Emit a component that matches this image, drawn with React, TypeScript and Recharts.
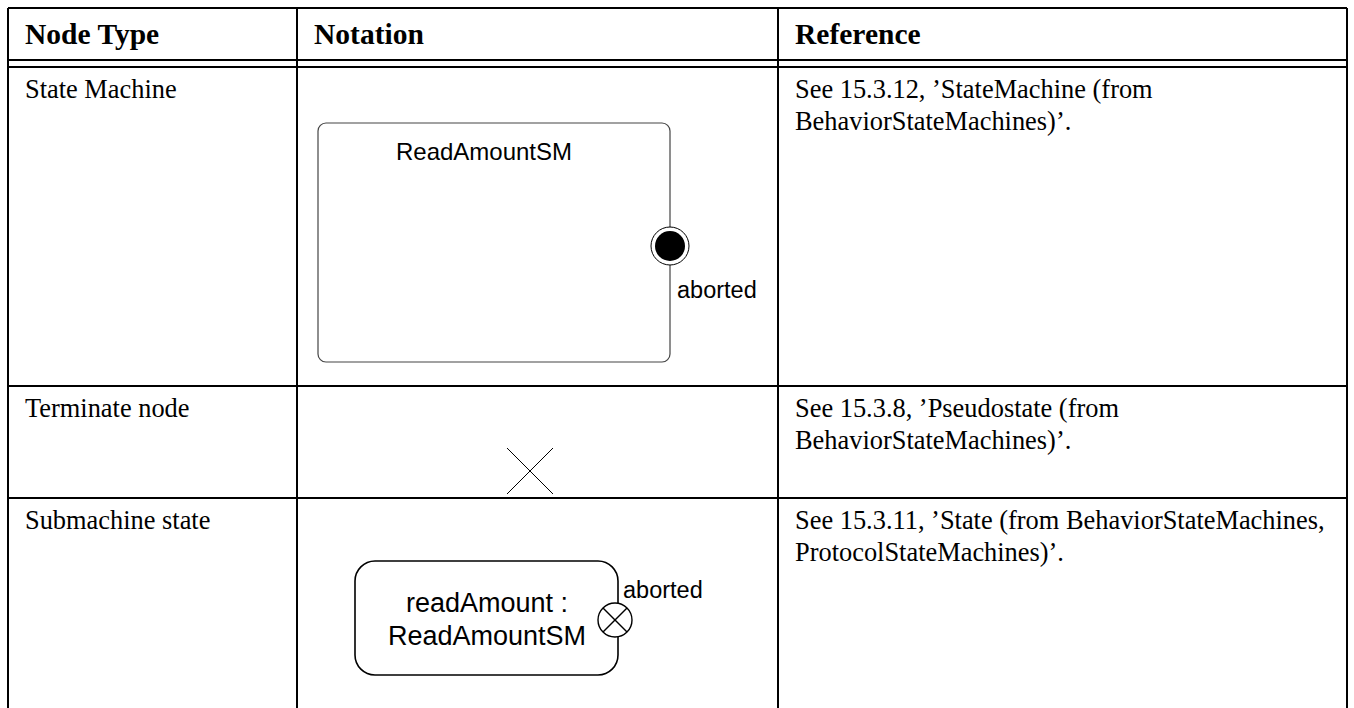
import React from 'react'
import { ComposedChart, XAxis, YAxis, ReferenceLine, ReferenceArea, ReferenceDot } from 'recharts'

// table content
const headers = ['Node Type', 'Notation', 'Reference']
const nodeTypes = ['State Machine', 'Terminate node', 'Submachine state']
const references = [
  ['See 15.3.12, \u2019StateMachine (from', 'BehaviorStateMachines)\u2019.'],
  ['See 15.3.8, \u2019Pseudostate (from', 'BehaviorStateMachines)\u2019.'],
  ['See 15.3.11, \u2019State (from BehaviorStateMachines,', 'ProtocolStateMachines)\u2019.'],
]
const machineName = 'ReadAmountSM'
const exitPointName = 'aborted'
const submachineLabel = ['readAmount :', 'ReadAmountSM']

// layout (pixels, the axes map 1:1)
const W = 1354
const H = 708
const colEdges = [8, 297, 778, 1347]
const headerLines = [8, 60, 67]
const rowEdges = [67, 386, 498]
const textPad = 17
const firstBaseline = 31
const lineGap = 32

const serif = '"Liberation Serif", "Times New Roman", serif'
const sans = '"Liberation Sans", Arial, sans-serif'

const textShape = (label: string, opts: { size: number; family: string; weight?: number; anchor?: string }) =>
  (p: any) => (
    <text
      x={p.cx}
      y={p.cy}
      fontSize={opts.size}
      fontFamily={opts.family}
      fontWeight={opts.weight ?? 400}
      textAnchor={opts.anchor ?? 'start'}
      fill="#000"
    >
      {label}
    </text>
  )

const TextAt = (x: number, y: number, label: string, opts: any, key: string) => (
  <ReferenceDot key={key} x={x} y={y} r={0} ifOverflow="visible" shape={textShape(label, opts)} />
)

const Seg = (x1: number, y1: number, x2: number, y2: number, stroke: string, w: number, key: string) => (
  <ReferenceLine
    key={key}
    segment={[{ x: x1, y: y1 }, { x: x2, y: y2 }]}
    stroke={stroke}
    strokeWidth={w}
    ifOverflow="visible"
  />
)

const roundRect = (rx: number, stroke: string, w: number) => (p: any) => (
  <rect x={p.x} y={p.y} width={p.width} height={p.height} rx={rx} ry={rx} fill="none" stroke={stroke} strokeWidth={w} />
)

// exit point: circle with a cross inside
const exitPoint = (p: any) => {
  const d = p.r * 0.7071
  return (
    <g stroke="#000" strokeWidth={1.4}>
      <circle cx={p.cx} cy={p.cy} r={p.r} fill="#fff" />
      <line x1={p.cx - d} y1={p.cy - d} x2={p.cx + d} y2={p.cy + d} />
      <line x1={p.cx - d} y1={p.cy + d} x2={p.cx + d} y2={p.cy - d} />
    </g>
  )
}

// final-state style port: ring with a filled disc
const finalPort = (p: any) => (
  <g>
    <circle cx={p.cx} cy={p.cy} r={p.r} fill="#fff" stroke="#000" strokeWidth={1} />
    <circle cx={p.cx} cy={p.cy} r={p.r - 4} fill="#000" />
  </g>
)

export default function App() {
  const els: React.ReactNode[] = []

  // grid lines
  headerLines.forEach((y, i) => els.push(Seg(colEdges[0], y, colEdges[3], y, '#000', 2, 'h' + i)))
  rowEdges.slice(1).forEach((y, i) => els.push(Seg(colEdges[0], y, colEdges[3], y, '#000', 2, 'r' + i)))
  colEdges.forEach((x, i) => els.push(Seg(x, headerLines[0], x, H, '#000', 2, 'c' + i)))

  // headers
  headers.forEach((h, i) =>
    els.push(TextAt(colEdges[i] + textPad, 44, h, { size: 29.5, family: serif, weight: 700 }, 'hd' + i))
  )

  // rows
  nodeTypes.forEach((n, i) => {
    const base = rowEdges[i] + firstBaseline
    els.push(TextAt(colEdges[0] + textPad, base, n, { size: 26.4, family: serif }, 'n' + i))
    references[i].forEach((line, j) =>
      els.push(TextAt(colEdges[2] + textPad, base + j * lineGap, line, { size: 26.4, family: serif }, `ref${i}-${j}`))
    )
  })

  return (
    <div style={{ width: W, height: H, position: 'absolute', left: 0, top: 0, background: '#fff' }}>
      <ComposedChart width={W} height={H} data={[]} margin={{ top: 0, right: 0, bottom: 0, left: 0 }}>
        <XAxis type="number" dataKey="x" domain={[0, W]} hide allowDataOverflow />
        <YAxis type="number" dataKey="y" domain={[0, H]} reversed hide allowDataOverflow />
        {els}

        {/* state machine frame */}
        <ReferenceArea x1={318} x2={670} y1={123} y2={362} ifOverflow="visible" shape={roundRect(8, '#444', 1.2)} />
        {TextAt(484, 160, machineName, { size: 24, family: sans, anchor: 'middle' }, 'sm')}
        <ReferenceDot x={670} y={246} r={19} ifOverflow="visible" shape={finalPort} />
        {TextAt(677, 298, exitPointName, { size: 23.5, family: sans }, 'ab1')}

        {/* terminate node */}
        {Seg(507, 448, 553, 494, '#000', 1, 't1')}
        {Seg(507, 494, 553, 448, '#000', 1, 't2')}

        {/* submachine state */}
        <ReferenceArea x1={355} x2={618} y1={561} y2={675} ifOverflow="visible" shape={roundRect(20, '#000', 1.6)} />
        {TextAt(487, 612, submachineLabel[0], { size: 27, family: sans, anchor: 'middle' }, 'sub0')}
        {TextAt(487, 645, submachineLabel[1], { size: 27, family: sans, anchor: 'middle' }, 'sub1')}
        <ReferenceDot x={615} y={620} r={17} ifOverflow="visible" shape={exitPoint} />
        {TextAt(623, 598, exitPointName, { size: 23.5, family: sans }, 'ab2')}
      </ComposedChart>
    </div>
  )
}
